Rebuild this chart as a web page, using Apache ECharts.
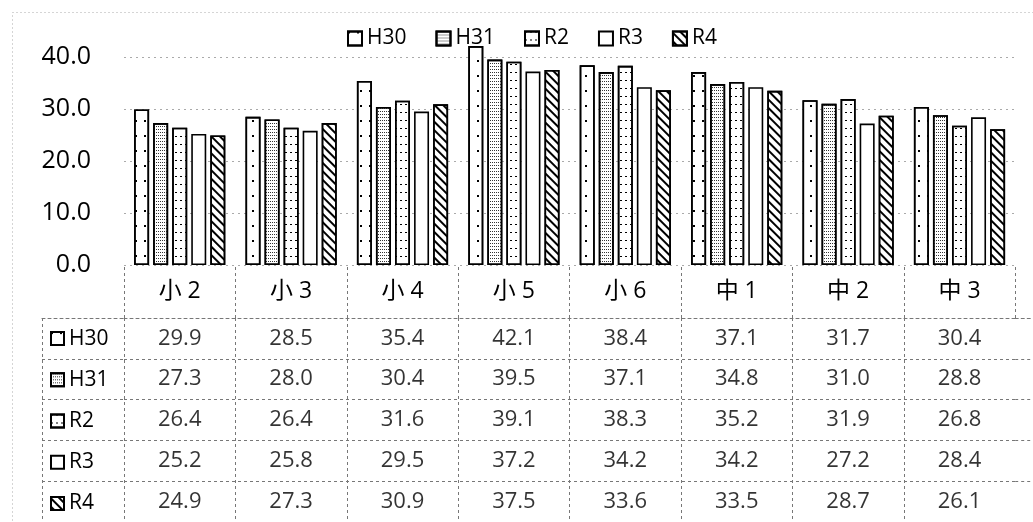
<!DOCTYPE html>
<html><head><meta charset="utf-8">
<script src="https://cdn.jsdelivr.net/npm/echarts@6/dist/echarts.min.js"></script>
<style>html,body{margin:0;padding:0;background:#fff}#c{width:1033px;height:522px}</style>
</head><body><div id="c"></div>
<script>
const categories = ['小 2','小 3','小 4','小 5','小 6','中 1','中 2','中 3'];
const seriesNames = ['H30','H31','R2','R3','R4'];
const H30 = [29.9,28.5,35.4,42.1,38.4,37.1,31.7,30.4];
const H31 = [27.3,28.0,30.4,39.5,37.1,34.8,31.0,28.8];
const R2  = [26.4,26.4,31.6,39.1,38.3,35.2,31.9,26.8];
const R3  = [25.2,25.8,29.5,37.2,34.2,34.2,27.2,28.4];
const R4  = [24.9,27.3,30.9,37.5,33.6,33.5,28.7,26.1];
const seriesValues = [H30,H31,R2,R3,R4];
const yTicks = [0,10,20,30,40];

const FONT = '"Open Sans", "Noto Sans CJK JP", sans-serif';
const TXT = '#000';
const decals = [
  {symbol:'rect', symbolSize:1, color:'#000', dashArrayX:[2,7], dashArrayY:[2,13]},
  {symbol:'rect', symbolSize:1, color:'#333', dashArrayX:[1,1], dashArrayY:[1,2]},
  {symbol:'rect', symbolSize:1, color:'#000', dashArrayX:[2,3], dashArrayY:[1,7]},
  null,
  {symbol:'rect', symbolSize:1, color:'#000', dashArrayX:[1,0], dashArrayY:[2,4], rotation:Math.PI/4}
];

// layout
const G = {left:124, colW:111.4, barTop:57, barH:208, tabTop:318, rowH:41.2, headL:42, W:1033};
const tabH = G.rowH*seriesNames.length;
const tabW = G.colW*categories.length;

const chart = echarts.init(document.getElementById('c'), null, {renderer:'canvas'});
const dashed = {color:'#777', type:[3,3], width:1};

const barSeries = seriesNames.map((n,s)=>{
  const itemStyle = {color:'#fff', borderColor:'#000', borderWidth:1.6};
  if (decals[s]) itemStyle.decal = decals[s];
  return {
    name:n, type:'bar', xAxisIndex:0, yAxisIndex:0,
    data: seriesValues[s], clip:false,
    barWidth:15, barGap:'27%', itemStyle
  };
});

const tableData = [];
seriesNames.forEach((n,s)=>categories.forEach((c,i)=>tableData.push([c,n,seriesValues[s][i]])));

const rowLegends = seriesNames.map((n,i)=>({
  data:[n], orient:'vertical', left:50, top:G.tabTop+(i+0.5)*G.rowH-11,
  icon:'rect', itemWidth:13, itemHeight:13, itemGap:0, padding:[0,0,0,0],
  textStyle:{fontSize:21, color:TXT, lineHeight:22, fontFamily:FONT}, selectedMode:false
}));

const bandY = (gi)=>({gridIndex:gi, type:'category', data:seriesNames, inverse:true,
  axisLabel:{show:false}, axisTick:{show:false}, axisLine:{show:false},
  splitLine:{show:true, lineStyle:dashed}});

chart.setOption({
  animation:false,
  backgroundColor:'#fff',
  textStyle:{fontFamily:FONT},
  graphic:[{type:'rect', silent:true, shape:{x:12.5,y:12.5,width:1100,height:600},
    style:{fill:'none', stroke:'#aaa', lineWidth:1, lineDash:[1,3]}}],
  legend:[
    {data:seriesNames, top:23, left:342, icon:'rect', itemWidth:14, itemHeight:14, itemGap:29,
     textStyle:{fontSize:21, color:TXT, fontFamily:FONT}, selectedMode:false},
    ...rowLegends
  ],
  grid:[
    {left:G.left, top:G.barTop, width:tabW, height:G.barH},
    {left:G.left, top:G.tabTop, width:tabW, height:tabH},
    {left:G.headL, top:G.tabTop, width:G.left-G.headL, height:tabH},
    {left:G.left+tabW, top:G.tabTop, width:G.W-G.left-tabW+5, height:tabH}
  ],
  xAxis:[
    {gridIndex:0, type:'category', data:categories, axisLabel:{show:false}, axisTick:{show:false}, axisLine:{show:false}},
    {gridIndex:1, type:'category', data:categories, position:'top',
     axisLine:{show:true, lineStyle:dashed},
     axisTick:{show:true, length:53, lineStyle:dashed},
     axisLabel:{show:true, margin:15, fontSize:23, color:TXT, fontFamily:FONT},
     splitLine:{show:true, showMaxLine:false, lineStyle:dashed}},
    {gridIndex:2, type:'category', data:[''], position:'top',
     axisLine:{show:true, lineStyle:dashed}, axisTick:{show:false}, axisLabel:{show:false},
     splitLine:{show:true, showMaxLine:false, lineStyle:dashed}},
    {gridIndex:3, type:'category', data:[''], position:'top',
     axisLine:{show:true, lineStyle:dashed}, axisTick:{show:false}, axisLabel:{show:false},
     splitLine:{show:false}}
  ],
  yAxis:[
    {gridIndex:0, type:'value', min:yTicks[0], max:yTicks[yTicks.length-1], interval:10,
     axisLabel:{formatter:v=>v.toFixed(1), fontSize:25, color:TXT, margin:33, fontFamily:FONT},
     axisLine:{show:false}, axisTick:{show:false},
     splitLine:{show:true, lineStyle:{color:'#aaa', type:[2,4], width:1}}},
    bandY(1), bandY(2), bandY(3)
  ],
  series:[
    ...barSeries,
    {type:'scatter', xAxisIndex:1, yAxisIndex:1, symbolSize:0, data:tableData, silent:true,
     label:{show:true, position:'inside', formatter:p=>p.value[2].toFixed(1), fontSize:22, color:TXT, fontFamily:FONT}}
  ]
});
</script></body></html>
